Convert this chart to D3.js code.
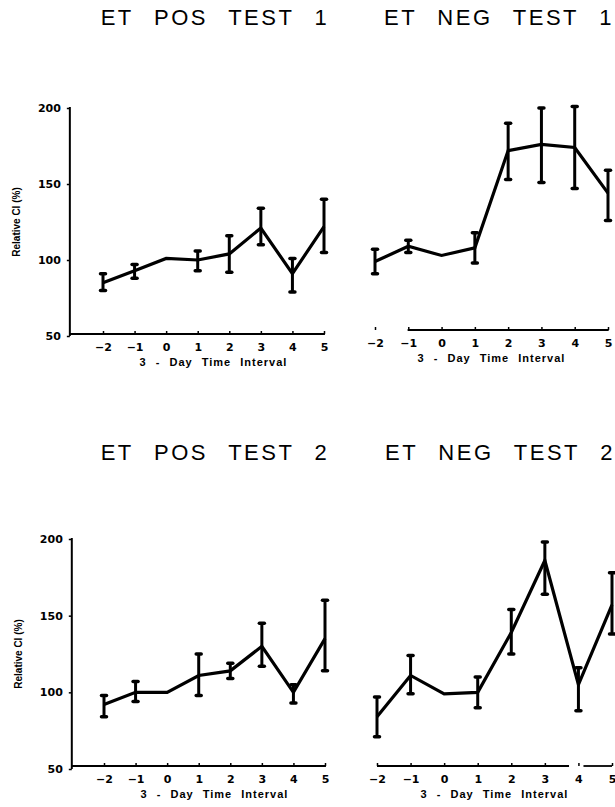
<!DOCTYPE html>
<html>
<head>
<meta charset="utf-8">
<script src="https://cdn.jsdelivr.net/npm/d3@7"></script>
<style>
  body { margin: 0; background: #fff; }
  svg { display: block; }
  .tick text { font-family: "DejaVu Sans", sans-serif; font-weight: bold; font-size: 11px; fill: #000; }
  .tick line { stroke: #000; stroke-width: 1.5px; }
  .title { font-family: "Liberation Sans", sans-serif; font-size: 22px; fill: #000; letter-spacing: 2.5px; word-spacing: 12px; }
  .xlabel { font-family: "Liberation Sans", sans-serif; font-weight: bold; font-size: 11px; fill: #000; letter-spacing: 1px; word-spacing: 5px; }
  .ylabel { font-family: "Liberation Sans", sans-serif; font-weight: bold; font-size: 10px; fill: #000; }
</style>
</head>
<body>
<div id="chart"></div>
<script>
// 3-day intervals on the x axis
var intervals = [-2, -1, 0, 1, 2, 3, 4, 5];
var yTicks = [50, 100, 150, 200];

// ET POS TEST 1
var pos1Mean = [85, 93, 101, 100, 104, 121, 91, 122];
var pos1Lo   = [80, 88, null, 93, 92, 110, 79, 105];
var pos1Hi   = [91, 97, null, 106, 116, 134, 101, 140];

// ET NEG TEST 1
var neg1Mean = [99, 109, 103, 108, 172, 176, 174, 144];
var neg1Lo   = [91, 105, null, 98, 153, 151, 147, 126];
var neg1Hi   = [107, 113, null, 118, 190, 200, 201, 159];

// ET POS TEST 2
var pos2Mean = [92, 100, 100, 111, 114, 130, 100, 135];
var pos2Lo   = [84, 94, null, 98, 109, 117, 93, 114];
var pos2Hi   = [98, 107, null, 125, 119, 145, 105, 160];

// ET NEG TEST 2
var neg2Mean = [84, 111, 99, 100, 139, 186, 105, 157];
var neg2Lo   = [71, 99, null, 90, 125, 164, 88, 138];
var neg2Hi   = [97, 124, null, 110, 154, 198, 116, 178];

var width = 615, height = 807;

var svg = d3.select("#chart").append("svg")
    .attr("width", width)
    .attr("height", height);

function drawPanel(p) {
    var x = d3.scaleLinear().domain([-2, 5]).range([p.left, p.right]);
    var y = d3.scaleLinear().domain([50, 200]).range([p.bottom, p.top]);
    var g = svg.append("g");

    var rows = intervals.map(function(d, i) {
        return { x: d, mean: p.mean[i], lo: p.lo[i], hi: p.hi[i] };
    });

    // title
    g.append("text")
        .attr("class", "title")
        .attr("x", p.titleX)
        .attr("y", p.titleY)
        .attr("text-anchor", "middle")
        .text(p.title);

    // y axis only on the left column
    if (p.yAxis) {
        var yAxisX = x(p.yAxisAt);
        var ya = g.append("g")
            .attr("transform", "translate(" + yAxisX + ",0)")
            .call(d3.axisLeft(y).tickValues(yTicks).tickSize(3).tickPadding(6));
        ya.select(".domain").remove();
        ya.append("line")
            .attr("x1", 0).attr("x2", 0)
            .attr("y1", y(200) - 1).attr("y2", y(50))
            .attr("stroke", "#000").attr("stroke-width", 2);

        g.append("text")
            .attr("class", "ylabel")
            .attr("transform", "translate(" + (yAxisX - 53) + "," + y(125) + ") rotate(-90)")
            .attr("text-anchor", "middle")
            .attr("dy", "0.35em")
            .text("Relative Cl (%)");
    }

    // x axis: ticks point up, labels below
    var axisY = y(50) + p.axisShift;
    var xa = g.append("g")
        .attr("transform", "translate(0," + axisY + ")")
        .call(d3.axisBottom(x).tickValues(intervals).tickSize(-3).tickPadding(9).tickFormat(d3.format("d")));
    xa.select(".domain").remove();

    g.selectAll(".xseg")
        .data(p.segments)
        .enter().append("line")
        .attr("class", "xseg")
        .attr("x1", function(d) { return x(d[0]); })
        .attr("x2", function(d) { return x(d[1]); })
        .attr("y1", axisY).attr("y2", axisY)
        .attr("stroke", "#000")
        .attr("stroke-width", 1.8);

    g.append("text")
        .attr("class", "xlabel")
        .attr("x", x(1.5))
        .attr("y", axisY + 32)
        .attr("text-anchor", "middle")
        .text("3 - Day Time Interval");

    // error bars
    var bars = rows.filter(function(d) { return d.lo !== null; });
    g.selectAll(".ebar")
        .data(bars)
        .enter().append("line")
        .attr("class", "ebar")
        .attr("x1", function(d) { return x(d.x); })
        .attr("x2", function(d) { return x(d.x); })
        .attr("y1", function(d) { return y(d.lo); })
        .attr("y2", function(d) { return y(d.hi); })
        .attr("stroke", "#000")
        .attr("stroke-width", 3);

    var caps = [];
    bars.forEach(function(d) {
        caps.push({ x: d.x, v: d.lo });
        caps.push({ x: d.x, v: d.hi });
    });
    g.selectAll(".cap")
        .data(caps)
        .enter().append("line")
        .attr("class", "cap")
        .attr("x1", function(d) { return x(d.x) - 2.5; })
        .attr("x2", function(d) { return x(d.x) + 2.5; })
        .attr("y1", function(d) { return y(d.v); })
        .attr("y2", function(d) { return y(d.v); })
        .attr("stroke", "#000")
        .attr("stroke-width", 3.5)
        .attr("stroke-linecap", "round");

    // mean line
    var line = d3.line()
        .x(function(d) { return x(d.x); })
        .y(function(d) { return y(d.mean); });

    g.append("path")
        .datum(rows)
        .attr("d", line)
        .attr("fill", "none")
        .attr("stroke", "#000")
        .attr("stroke-width", 3.2)
        .attr("stroke-linejoin", "miter");
}

drawPanel({ title: "ET POS TEST 1", mean: pos1Mean, lo: pos1Lo, hi: pos1Hi,
    left: 103, right: 324, top: 108, bottom: 336, titleX: 215, titleY: 25,
    yAxis: true, yAxisAt: -3.05, axisShift: -2, segments: [[-3.05, 5.03]] });

drawPanel({ title: "ET NEG TEST 1", mean: neg1Mean, lo: neg1Lo, hi: neg1Hi,
    left: 375, right: 608, top: 108, bottom: 336, titleX: 499, titleY: 25,
    yAxis: false, axisShift: -6, segments: [[-1.02, 5.02]] });

drawPanel({ title: "ET POS TEST 2", mean: pos2Mean, lo: pos2Lo, hi: pos2Hi,
    left: 104, right: 325, top: 539, bottom: 769, titleX: 215, titleY: 460,
    yAxis: true, yAxisAt: -3.02, axisShift: -3, segments: [[-3.02, 5.03]] });

drawPanel({ title: "ET NEG TEST 2", mean: neg2Mean, lo: neg2Lo, hi: neg2Hi,
    left: 377, right: 612, top: 539, bottom: 769, titleX: 500, titleY: 460,
    yAxis: false, axisShift: -3, segments: [[-2, 3.72], [4.15, 5]] });
</script>
</body>
</html>
